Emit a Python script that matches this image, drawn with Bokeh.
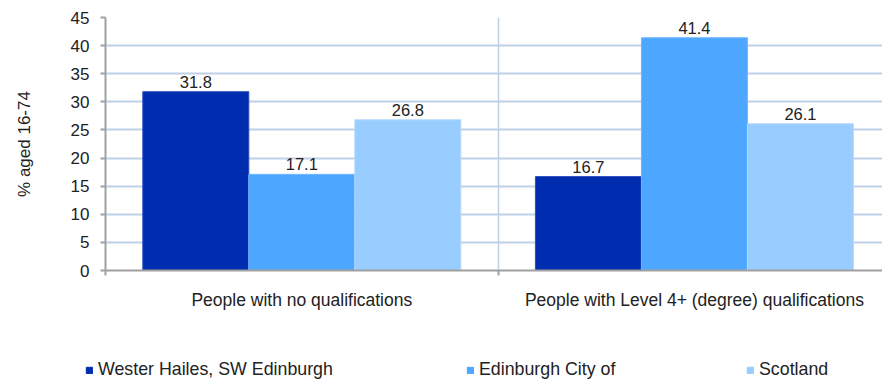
from bokeh.plotting import figure
from bokeh.layouts import column
from bokeh.models import (ColumnDataSource, Range1d, FixedTicker, Legend, LegendItem)
from bokeh.transform import dodge
from bokeh.core.properties import value
from bokeh.embed import file_html
from bokeh.resources import INLINE

# Data
categories = ["People with no qualifications",
              "People with Level 4+ (degree) qualifications"]
series = ["Wester Hailes, SW Edinburgh", "Edinburgh City of", "Scotland"]
wester_hailes = [31.8, 16.7]
edinburgh_city = [17.1, 41.4]
scotland = [26.8, 26.1]
y_ticks = [0, 5, 10, 15, 20, 25, 30, 35, 40, 45]

colors = ["#002CAF", "#4DA6FF", "#99CCFF"]
edges = ["#2A4FC0", "#6FB6FF", "#B5DAFF"]
FONT = "Liberation Sans"
TEXT = "#222222"

xpos = [i + 0.5 for i in range(len(categories))]
src = ColumnDataSource(dict(
    x=xpos,
    s0=wester_hailes, s1=edinburgh_city, s2=scotland,
    l0=[f"{v:.1f}" for v in wester_hailes],
    l1=[f"{v:.1f}" for v in edinburgh_city],
    l2=[f"{v:.1f}" for v in scotland],
))

p = figure(width=882, height=345, output_backend="svg", toolbar_location=None,
           x_range=Range1d(0, 1.979), y_range=Range1d(0, 45),
           min_border_left=105, min_border_right=0, min_border_top=17,
           min_border_bottom=75)
p.outline_line_color = None
p.background_fill_color = "white"
p.border_fill_color = "white"
p.frame_align = False

bar_w = 0.27
offsets = [-bar_w, 0.0, bar_w]
for k in range(3):
    p.vbar(x=dodge("x", offsets[k], range=p.x_range), top=f"s{k}", width=bar_w,
           source=src, fill_color=colors[k], line_color=edges[k], line_width=1)
    p.text(x=dodge("x", offsets[k], range=p.x_range), y=f"s{k}", text=f"l{k}", source=src,
           text_align="center", text_baseline="bottom", y_offset=-4,
           text_font=value(FONT), text_font_size="16.5px", text_color=TEXT)

# Axes
p.yaxis.ticker = FixedTicker(ticks=y_ticks)
p.yaxis.axis_label = "% aged 16-74"
p.yaxis.axis_label_text_font = FONT
p.yaxis.axis_label_text_font_size = "17px"
p.yaxis.axis_label_text_font_style = "normal"
p.yaxis.axis_label_text_color = TEXT
p.yaxis.axis_label_standoff = 34
p.yaxis.major_label_text_font = FONT
p.yaxis.major_label_text_font_size = "17px"
p.yaxis.major_label_text_color = TEXT
p.yaxis.major_label_standoff = 11
p.yaxis.major_tick_out = 5
p.yaxis.major_tick_in = 0
p.yaxis.minor_tick_line_color = None
p.yaxis.axis_line_color = "#A0A0A0"
p.yaxis.axis_line_width = 2
p.yaxis.major_tick_line_color = "#A0A0A0"
p.yaxis.major_tick_line_width = 2

p.xaxis.ticker = FixedTicker(ticks=xpos, minor_ticks=[0, 1, 2])
p.xaxis.major_label_overrides = {x: c for x, c in zip(xpos, categories)}
p.xaxis.major_label_text_font = FONT
p.xaxis.major_label_text_font_size = "17.5px"
p.xaxis.major_label_text_color = TEXT
p.xaxis.major_label_standoff = 13
p.xaxis.major_tick_line_color = None
p.xaxis.minor_tick_out = 5
p.xaxis.minor_tick_in = 0
p.xaxis.minor_tick_line_color = "#A0A0A0"
p.xaxis.minor_tick_line_width = 2
p.xaxis.axis_line_color = "#A0A0A0"
p.xaxis.axis_line_width = 2

# Grid
p.ygrid.ticker = FixedTicker(ticks=y_ticks)
p.ygrid.grid_line_color = "#BFD0E8"
p.ygrid.grid_line_width = 2
p.xgrid.ticker = FixedTicker(ticks=[1])
p.xgrid.grid_line_color = "#BFD0E8"
p.xgrid.grid_line_width = 1.5

# Legend strip underneath the chart
leg = figure(width=882, height=35, output_backend="svg", toolbar_location=None,
             x_range=Range1d(0, 882), y_range=Range1d(0, 35),
             x_axis_type=None, y_axis_type=None,
             min_border_left=0, min_border_right=0, min_border_top=0, min_border_bottom=0)
leg.outline_line_color = None
leg.xgrid.visible = False
leg.ygrid.visible = False
leg.frame_align = False
# swatch renderers hold no drawable point; only their legend entries show
swatch = ColumnDataSource(dict(x=[float("nan")], top=[float("nan")]))
legend_x = [85, 466, 746]
for k in range(3):
    r = leg.vbar(x="x", top="top", width=1, source=swatch,
                 fill_color=colors[k], line_color=colors[k])
    leg.add_layout(Legend(items=[LegendItem(label=series[k], renderers=[r])],
                          location=(legend_x[k], 0), orientation="horizontal",
                          glyph_width=8, glyph_height=8, label_standoff=5,
                          padding=0, margin=0, spacing=0, label_height=20,
                          background_fill_alpha=0, border_line_color=None,
                          label_text_font=FONT, label_text_font_size="17.8px",
                          label_text_color=TEXT), "center")

layout = column(p, leg, spacing=0)
open("out.html", "w").write(file_html(layout, INLINE))
